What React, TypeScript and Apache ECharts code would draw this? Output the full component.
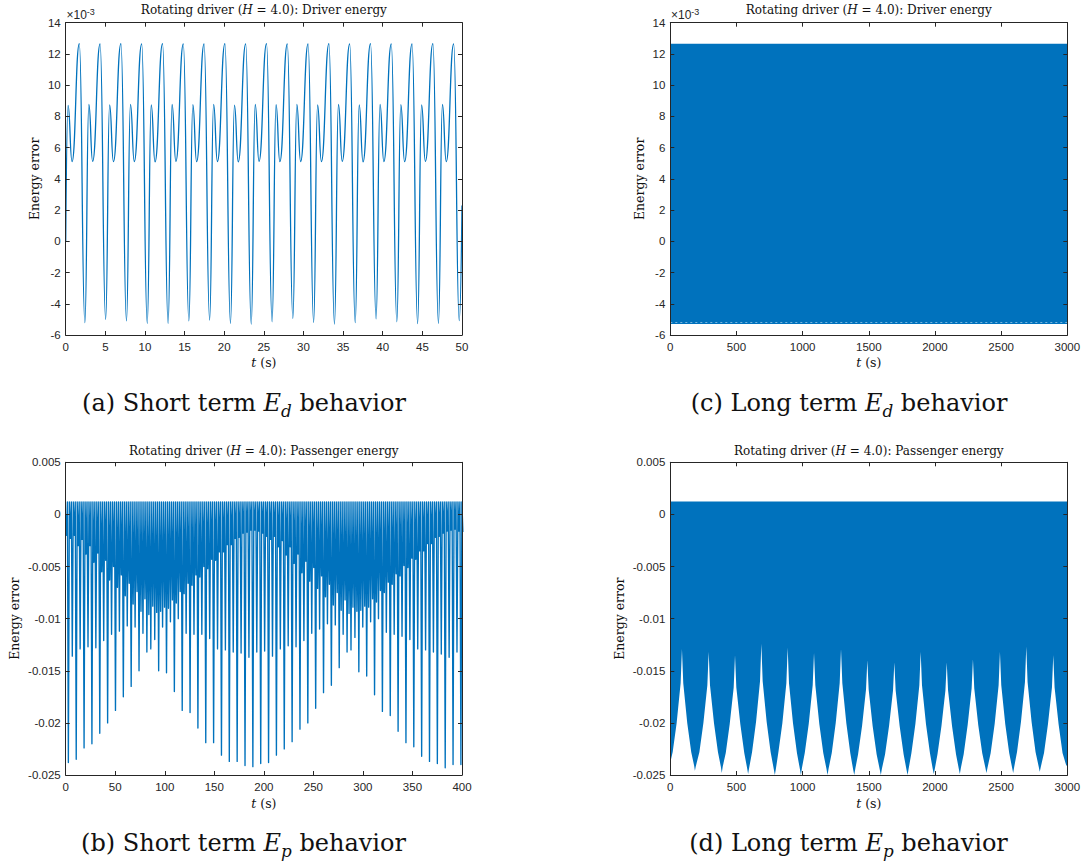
import React, { useEffect, useRef } from 'react';
import * as echarts from 'echarts';

// ---------------- data (energy values in units of 1e-3) ----------------
// (a) short-term driver energy: extrema, t in s
const shortDriverT = [0, 0.3, 0.8,
  1.72, 2.42, 2.92, 3.4, 4.34, 5.04, 5.54, 6.02, 6.97, 7.67, 8.17, 8.65,
  9.59, 10.29, 10.79, 11.27, 12.22, 12.92, 13.42, 13.9, 14.84, 15.54, 16.04, 16.52,
  17.46, 18.16, 18.66, 19.14, 20.09, 20.79, 21.29, 21.77, 22.71, 23.41, 23.91, 24.39,
  25.34, 26.04, 26.54, 27.02, 27.96, 28.66, 29.16, 29.64, 30.58, 31.28, 31.78, 32.26,
  33.21, 33.91, 34.41, 34.89, 35.83, 36.53, 37.03, 37.51, 38.46, 39.16, 39.66, 40.14,
  41.08, 41.78, 42.28, 42.76, 43.7, 44.4, 44.9, 45.38, 46.33, 47.03, 47.53, 48.01,
  48.95, 49.65, 50.0];
const shortDriverE = [0, 8.7, 5.1,
  12.66, -5.21, 8.76, 5.12, 12.64, -5.0, 8.74, 5.1, 12.66, -5.1, 8.77, 5.11,
  12.65, -5.25, 8.73, 5.09, 12.66, -5.25, 8.76, 5.12, 12.64, -5.1, 8.75, 5.1,
  12.65, -5.04, 8.77, 5.11, 12.66, -5.25, 8.72, 5.09, 12.64, -5.3, 8.76, 5.12,
  12.66, -5.15, 8.75, 5.1, 12.65, -4.93, 8.77, 5.11, 12.64, -5.19, 8.73, 5.1,
  12.66, -5.3, 8.76, 5.12, 12.65, -5.21, 8.74, 5.09, 12.66, -4.97, 8.77, 5.11,
  12.64, -5.15, 8.75, 5.1, 12.65, -5.27, 8.73, 5.12, 12.66, -5.25, 8.76, 5.1,
  12.65, -5.08, 2.3];

// (c) long-term driver energy: envelope of the dense oscillation
const longDriverT = [0, 3000];
const longDriverUpper = [12.65, 12.65];
const longDriverLower = [-5.3, -5.3];
const longDriverTroughLevel = [-5.2, -5.2];

// (b) short-term passenger energy
const passengerSpikeStart = 2.7; // s, first spike
const passengerSpikeStep = 3.962; // s between spikes
const passengerPeak = 1.2;
const passengerSpikes = [
  -23.8, -13.6, -23.5, -12.9, -22.4, -12.7, -22.0, -12.8, -21.0, -12.1,
  -20.0, -11.5, -18.8, -11.2, -17.5, -10.7, -16.5, -10.8, -15.0, -11.4,
  -13.2, -12.9, -12.0, -15.0, -10.8, -15.2, -10.3, -17.0, -10.0, -18.8,
  -11.4, -19.0, -11.5, -20.5, -11.5, -21.9, -11.9, -21.9, -12.9, -23.1,
  -13.0, -23.7, -13.2, -23.7, -13.3, -24.1, -13.7, -24.2, -13.2, -23.9,
  -13.1, -23.8, -13.6, -23.1, -12.9, -22.5, -12.6, -21.8, -12.7, -20.6,
  -12.1, -20.0, -11.4, -18.6, -11.0, -17.1, -10.5, -16.4, -10.6, -14.7,
  -11.5, -13.2, -13.0, -11.8, -15.1, -10.8, -15.5, -10.3, -17.3, -10.0,
  -18.9, -11.3, -19.3, -11.5, -20.8, -11.7, -21.9, -12.0, -22.3, -12.9,
  -23.2, -13.0, -23.7, -13.2, -23.9, -13.4, -24.3, -13.7, -24.0, -13.2,
  -24.0];
const passengerDips = [
  -2.3, -2.0, -3.0, -2.4, -3.8, -3.0, -4.6, -3.7, -5.5, -4.4,
  -6.3, -5.0, -7.0, -5.8, -7.8, -6.6, -8.6, -7.4, -9.3, -8.1,
  -9.6, -8.8, -9.4, -9.3, -8.9, -9.0, -8.2, -8.5, -7.4, -7.6,
  -6.6, -6.8, -5.8, -6.0, -5.0, -5.2, -4.3, -4.4, -3.6, -3.6,
  -2.9, -2.9, -2.3, -2.2, -1.8, -1.7, -1.5, -1.5, -1.6, -1.8,
  -2.1,
  -2.4, -2.1, -3.1, -2.5, -3.9, -3.1, -4.7, -3.8, -5.6, -4.5,
  -6.4, -5.1, -7.1, -5.9, -7.9, -6.7, -8.7, -7.5, -9.2, -8.2,
  -9.5, -8.9, -9.3, -9.2, -8.8, -8.9, -8.1, -8.4, -7.3, -7.5,
  -6.5, -6.7, -5.7, -5.9, -4.9, -5.1, -4.2, -4.3, -3.5, -3.5,
  -2.8, -2.8, -2.2, -2.1, -1.8, -1.6, -1.5, -1.4, -1.6, -1.7];

// (d) long-term passenger energy: upper level and lower envelope
const longPassengerUpper = 1.25;
const longPassengerT = [0, 18, 48, 78, 88, 98, 128, 158, 180, 186, 192,
  220, 250, 280, 290, 300, 330, 360, 382, 389, 396,
  419, 449, 479, 489, 499, 529, 559, 580, 588, 596,
  618, 648, 678, 688, 698, 728, 758, 780, 790, 798,
  817, 847, 877, 887, 897, 927, 957, 979, 987, 995,
  1016, 1046, 1076, 1086, 1096, 1126, 1156, 1180, 1188, 1196,
  1220, 1250, 1280, 1290, 1300, 1330, 1360, 1382, 1390, 1398,
  1419, 1449, 1479, 1489, 1499, 1529, 1559, 1583, 1591, 1599,
  1623, 1653, 1683, 1693, 1703, 1733, 1763, 1785, 1793, 1801,
  1822, 1852, 1882, 1892, 1902, 1932, 1962, 1983, 1991, 1999,
  2019, 2049, 2079, 2089, 2099, 2129, 2159, 2180, 2188, 2196,
  2217, 2247, 2277, 2287, 2297, 2327, 2357, 2381, 2389, 2397,
  2421, 2451, 2481, 2491, 2501, 2531, 2561, 2583, 2591, 2599,
  2620, 2650, 2680, 2690, 2700, 2730, 2760, 2784, 2792, 2800,
  2824, 2854, 2884, 2894, 2904, 2934, 2964, 2990, 3000];
const longPassengerLow = [-23.8, -22.8, -20.0, -16.2, -12.9, -16.2, -20.0, -22.8, -24.1, -24.6, -24.2,
  -22.8, -20.0, -16.4, -13.2, -16.4, -20.0, -22.8, -24.2, -24.8, -24.2,
  -22.9, -20.1, -16.6, -13.5, -16.6, -20.1, -22.9, -24.3, -24.9, -24.3,
  -22.8, -19.9, -16.0, -12.4, -16.0, -19.9, -22.8, -24.3, -25.0, -24.4,
  -22.8, -20.0, -16.2, -12.8, -16.2, -20.0, -22.9, -24.4, -25.0, -24.3,
  -22.9, -20.1, -16.4, -13.3, -16.4, -20.1, -22.9, -24.4, -25.0, -24.4,
  -22.9, -20.0, -16.2, -12.9, -16.2, -20.0, -22.9, -24.5, -25.0, -24.4,
  -23.0, -20.3, -16.8, -14.0, -16.8, -20.3, -23.0, -24.5, -25.0, -24.4,
  -23.0, -20.3, -16.9, -14.2, -16.9, -20.3, -23.0, -24.5, -25.0, -24.4,
  -22.9, -20.1, -16.4, -13.2, -16.4, -20.1, -22.9, -24.4, -24.9, -24.4,
  -23.0, -20.3, -16.9, -14.2, -16.9, -20.3, -23.0, -24.4, -24.9, -24.3,
  -23.0, -20.2, -16.7, -13.9, -16.7, -20.2, -22.9, -24.3, -24.8, -24.3,
  -22.9, -20.1, -16.4, -13.2, -16.4, -20.1, -22.9, -24.3, -24.8, -24.2,
  -22.8, -19.9, -16.1, -12.7, -16.1, -19.9, -22.8, -24.2, -24.7, -24.2,
  -22.9, -20.1, -16.6, -13.5, -16.6, -20.1, -22.9, -24.0, -24.2];

// ---------------- styling ----------------
const BLUE = '#0072BD';
const AXIS = '#262626';
const SANS = '"Liberation Sans", Arial, Helvetica, sans-serif';
const SERIF = '"DejaVu Serif", serif';

const GRIDS = [
  { left: 65.7, top: 22.7, width: 396.3, height: 312.3 }, // (a)
  { left: 670.3, top: 22.7, width: 397, height: 312.3 }, // (c)
  { left: 65.7, top: 462.3, width: 396.3, height: 312.7 }, // (b)
  { left: 670.3, top: 462.3, width: 397, height: 312.7 }, // (d)
];

function makeAxes(gridIndex: number, xr: number[], yr: number[], yFmt: (v: number) => string) {
  const base = {
    gridIndex,
    type: 'value',
    z: 10,
    splitLine: { show: false },
    axisLine: { show: true, onZero: false, lineStyle: { color: AXIS, width: 1 } },
    axisTick: { show: true, inside: true, length: 4, lineStyle: { color: AXIS, width: 1 } },
  };
  const lbl = { color: AXIS, fontFamily: SANS, fontSize: 11.5 };
  const xs = [
    { ...base, position: 'bottom', min: xr[0], max: xr[1], interval: xr[2],
      axisLabel: { ...lbl, margin: 6, formatter: (v: number) => String(v) } },
    { ...base, position: 'top', min: xr[0], max: xr[1], interval: xr[2], axisLabel: { show: false } },
  ];
  const ys = [
    { ...base, position: 'left', min: yr[0], max: yr[1], interval: yr[2],
      axisLabel: { ...lbl, margin: 5, formatter: yFmt } },
    { ...base, position: 'right', min: yr[0], max: yr[1], interval: yr[2], axisLabel: { show: false } },
  ];
  return { xs, ys };
}

const serifRich = (size: number, lh: number) => ({
  n: { fontFamily: SERIF, fontSize: size, lineHeight: lh, fill: '#111', verticalAlign: 'middle' },
  i: { fontFamily: SERIF, fontSize: size, fontStyle: 'italic', lineHeight: lh, fill: '#111', verticalAlign: 'middle' },
  s: { fontFamily: SERIF, fontSize: size * 0.7, fontStyle: 'italic', lineHeight: size * 0.75, fill: '#111', verticalAlign: 'bottom' },
  sp: { fontFamily: SERIF, fontSize: size, lineHeight: lh, fill: '#111', verticalAlign: 'middle' },
});

function textEl(x: number, y: number, text: string, size: number, lh: number, rotation = 0, fill = '#111') {
  return {
    type: 'text', x, y, rotation, silent: true,
    style: { text, rich: serifRich(size, lh), align: 'center', verticalAlign: 'middle', fill, fontFamily: SERIF, fontSize: size },
  };
}

function expLabel(x: number, y: number) {
  return {
    type: 'text', x, y, silent: true,
    style: {
      text: '{a|×10}{b|-3}', align: 'left', verticalAlign: 'middle', fill: AXIS,
      rich: {
        a: { fontFamily: SANS, fontSize: 12, lineHeight: 16, fill: AXIS, verticalAlign: 'middle' },
        b: { fontFamily: SANS, fontSize: 9, lineHeight: 10, fill: AXIS, verticalAlign: 'top' },
      },
    },
  };
}

// polygon between an upper and a lower envelope, drawn via the axis scales
function bandSeries(axisIndex: number, T: number[], upper: number[], lower: number[]) {
  return {
    type: 'custom',
    xAxisIndex: axisIndex,
    yAxisIndex: axisIndex,
    silent: true,
    clip: true,
    data: [[T[0], upper[0]]],
    renderItem: (_params: any, api: any) => {
      const top = T.map((t, i) => api.coord([t, upper[i]]));
      const bot = T.map((t, i) => api.coord([t, lower[i]])).reverse();
      return {
        type: 'polygon',
        shape: { points: top.concat(bot) },
        style: { fill: BLUE, stroke: null },
      };
    },
  };
}

export default function App() {
  const ref = useRef<HTMLDivElement>(null);
  useEffect(() => {
    if (!ref.current) return;
    const chart = echarts.init(ref.current, null, { renderer: 'svg', width: 1085, height: 863 });

    const e3 = (v: number) => String(v);
    const small = (v: number) => String(Number((v / 1000).toFixed(3)));
    const A = makeAxes(0, [0, 50, 5], [-6, 14, 2], e3);
    const C = makeAxes(1, [0, 3000, 500], [-6, 14, 2], e3);
    const B = makeAxes(2, [0, 400, 50], [-25, 5, 5], small);
    const D = makeAxes(3, [0, 3000, 500], [-25, 5, 5], small);

    const aData = shortDriverT.map((t, i) => [t, shortDriverE[i]]);

    const bData: number[][] = [[0, 0], [0.75, -2.0]];
    const q = passengerSpikeStep / 4;
    passengerSpikes.forEach((s, k) => {
      const t = passengerSpikeStart + k * passengerSpikeStep;
      bData.push([t - q, passengerPeak], [t, s], [t + q, passengerPeak], [t + 2 * q, passengerDips[k]]);
    });

    const cTrough = longDriverT.map((t, i) => [t, longDriverTroughLevel[i]]);
    const dUpper = longPassengerT.map(() => longPassengerUpper);

    const common = { type: 'line', symbol: 'none', showSymbol: false, silent: true };

    const titleTxt = (what: string) => `{n|Rotating driver (}{i|H }{n|= 4.0): ${what}}`;
    const xName = '{i|t }{n|(s)}';
    const cap = (letter: string, term: string, sub: string) =>
      `{n|(${letter}) ${term} term }{i|E}{s|${sub}}{sp| }{n|behavior}`;

    const gcx = (g: any) => g.left + g.width / 2;
    const gcy = (g: any) => g.top + g.height / 2;

    const option: any = {
      animation: false,
      backgroundColor: '#ffffff',
      grid: GRIDS.map((g) => ({ ...g, containLabel: false, show: false })),
      xAxis: [...A.xs, ...C.xs, ...B.xs, ...D.xs],
      yAxis: [...A.ys, ...C.ys, ...B.ys, ...D.ys],
      series: [
        { ...common, xAxisIndex: 0, yAxisIndex: 0, data: aData, smooth: 0.5, smoothMonotone: 'x',
          lineStyle: { color: BLUE, width: 1.3 } },
        bandSeries(2, longDriverT, longDriverUpper, longDriverLower),
        { ...common, xAxisIndex: 2, yAxisIndex: 2, data: cTrough, z: 3,
          lineStyle: { color: '#ffffff', width: 0.8, type: [2, 3], opacity: 0.6 } },
        { ...common, xAxisIndex: 4, yAxisIndex: 4, data: bData,
          lineStyle: { color: BLUE, width: 1.35, join: 'round' } },
        bandSeries(6, longPassengerT, dUpper, longPassengerLow),
      ],
      graphic: {
        elements: [
          // titles
          textEl(gcx(GRIDS[0]), 10, titleTxt('Driver energy'), 12, 16),
          textEl(gcx(GRIDS[1]), 10, titleTxt('Driver energy'), 12, 16),
          textEl(gcx(GRIDS[2]), 450.7, titleTxt('Passenger energy'), 12, 16),
          textEl(gcx(GRIDS[3]), 450.7, titleTxt('Passenger energy'), 12, 16),
          // exponent labels
          expLabel(66.5, 15),
          expLabel(671, 15),
          // y-axis names
          textEl(34, gcy(GRIDS[0]), '{n|Energy error}', 12.5, 16, Math.PI / 2),
          textEl(639, gcy(GRIDS[1]), '{n|Energy error}', 12.5, 16, Math.PI / 2),
          textEl(14.5, gcy(GRIDS[2]), '{n|Energy error}', 12.5, 16, Math.PI / 2),
          textEl(619, gcy(GRIDS[3]), '{n|Energy error}', 12.5, 16, Math.PI / 2),
          // x-axis names
          textEl(gcx(GRIDS[0]), 362, xName, 12.5, 16),
          textEl(gcx(GRIDS[1]), 362, xName, 12.5, 16),
          textEl(gcx(GRIDS[2]), 803, xName, 12.5, 16),
          textEl(gcx(GRIDS[3]), 803, xName, 12.5, 16),
          // captions
          textEl(244, 403, cap('a', 'Short', 'd'), 24, 32, 0, '#000'),
          textEl(849, 403, cap('c', 'Long', 'd'), 24, 32, 0, '#000'),
          textEl(243.5, 843, cap('b', 'Short', 'p'), 24, 32, 0, '#000'),
          textEl(848.5, 843, cap('d', 'Long', 'p'), 24, 32, 0, '#000'),
        ],
      },
    };
    chart.setOption(option);
    return () => chart.dispose();
  }, []);

  return (
    <div
      ref={ref}
      style={{ position: 'fixed', left: 0, top: 0, width: 1085, height: 863, background: '#fff' }}
    />
  );
}
